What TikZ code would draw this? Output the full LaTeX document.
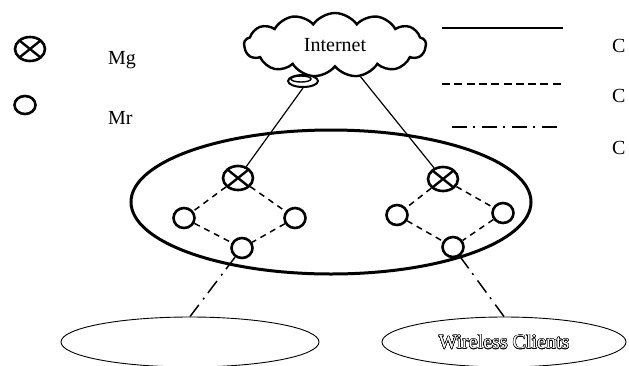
\documentclass[tikz,border=0pt]{standalone}
\usepackage{fontspec}
\setmainfont{Liberation Serif}
\usepackage{contour}
\contourlength{0.5pt}
\usetikzlibrary{shapes.symbols,shapes.geometric}
\tikzset{
  lbl/.style={font=\fontsize{20}{24}\selectfont, inner sep=0pt, anchor=base west},
  gw/.style={ellipse, draw, line width=2.6pt, minimum width=30pt, minimum height=24pt, inner sep=0pt,
    path picture={\draw[line width=2.4pt] (path picture bounding box.north west) -- (path picture bounding box.south east)
      (path picture bounding box.south west) -- (path picture bounding box.north east);}},
  rt/.style={ellipse, draw, line width=2.6pt, minimum width=21pt, minimum height=20pt, inner sep=0pt},
  wired/.style={line width=1.2pt},
  mesh/.style={line width=1.5pt, dash pattern=on 6pt off 5pt},
  wless/.style={line width=1.5pt, dash pattern=on 15pt off 6pt on 2pt off 7pt},
  client/.style={ellipse, draw, line width=0.9pt, inner sep=0pt},
}
\begin{document}
\begin{tikzpicture}[x=1pt,y=-1pt]
\useasboundingbox (0,0) rectangle (629,365);
% legend
\node[gw] (lg) at (30,49) {};
\node[lbl] (lgt) at (108,64) {Mg};
\node[rt, minimum height=18pt] (lr) at (25,105) {};
\node[lbl] (lrt) at (108,124) {Mr};
\coordinate (l1a) at (442,28); \coordinate (l1b) at (563,28);
\coordinate (l2a) at (442,84); \coordinate (l2b) at (562,84);
\coordinate (l3a) at (452,127); \coordinate (l3b) at (557,127);
\draw[wired] (l1a) -- (l1b);
\draw[line width=1.3pt, dash pattern=on 8pt off 4.3pt] (l2a) -- (l2b);
\draw[wless] (l3a) -- (l3b);
\node[lbl] (c1) at (612,52) {C};
\node[lbl] (c2) at (612,102) {C};
\node[lbl] (c3) at (612,154) {C};
% cloud
\node[cloud, draw, line width=2.4pt, cloud puffs=13, cloud puff arc=110, aspect=3,
      minimum width=182pt, minimum height=64pt, font=\fontsize{20}{24}\selectfont] (inet) at (335,45) {Internet};
\node[ellipse, draw, fill=white, line width=2pt, minimum width=30pt, minimum height=12pt, inner sep=0pt] (bub) at (303,81) {};
\node[ellipse, draw, line width=1.4pt, minimum width=20pt, minimum height=6pt, inner sep=0pt] (bubin) at (301,79) {};
% mesh ellipse
\node[ellipse, draw, line width=3pt, minimum width=400pt, minimum height=144pt, inner sep=0pt] (wmn) at (331,202) {};
% left cluster
\node[gw] (gL) at (238,178) {};
\node[rt] (aL) at (184,218) {};
\node[rt] (bL) at (295,218) {};
\node[rt] (cL) at (242,248) {};
% right cluster
\node[gw] (gR) at (443,179) {};
\node[rt] (aR) at (397,215) {};
\node[rt] (bR) at (503,213) {};
\node[rt] (cR) at (453,247) {};
% wired links
\draw[wired] (bub.south) -- (gL);
\draw[wired] (inet) -- (gR);
% mesh links
\draw[mesh] (gL) -- (aL);
\draw[mesh] (gL) -- (bL);
\draw[mesh] (aL) -- (cL);
\draw[mesh] (bL) -- (cL);
\draw[mesh] (gR) -- (aR);
\draw[mesh] (gR) -- (bR);
\draw[mesh] (aR) -- (cR);
\draw[mesh] (bR) -- (cR);
% clients
\node[client, minimum width=258pt, minimum height=50pt] (cliL) at (190,342) {};
\node[client, minimum width=244pt, minimum height=50pt, font=\fontsize{20}{24}\selectfont] (cliR) at (504,342) {\color{white}\contour{black}{Wireless Clients}};
\draw[wless] (cL) -- (cliL.north);
\draw[wless] (cR) -- (cliR.north);
\end{tikzpicture}
\end{document}
